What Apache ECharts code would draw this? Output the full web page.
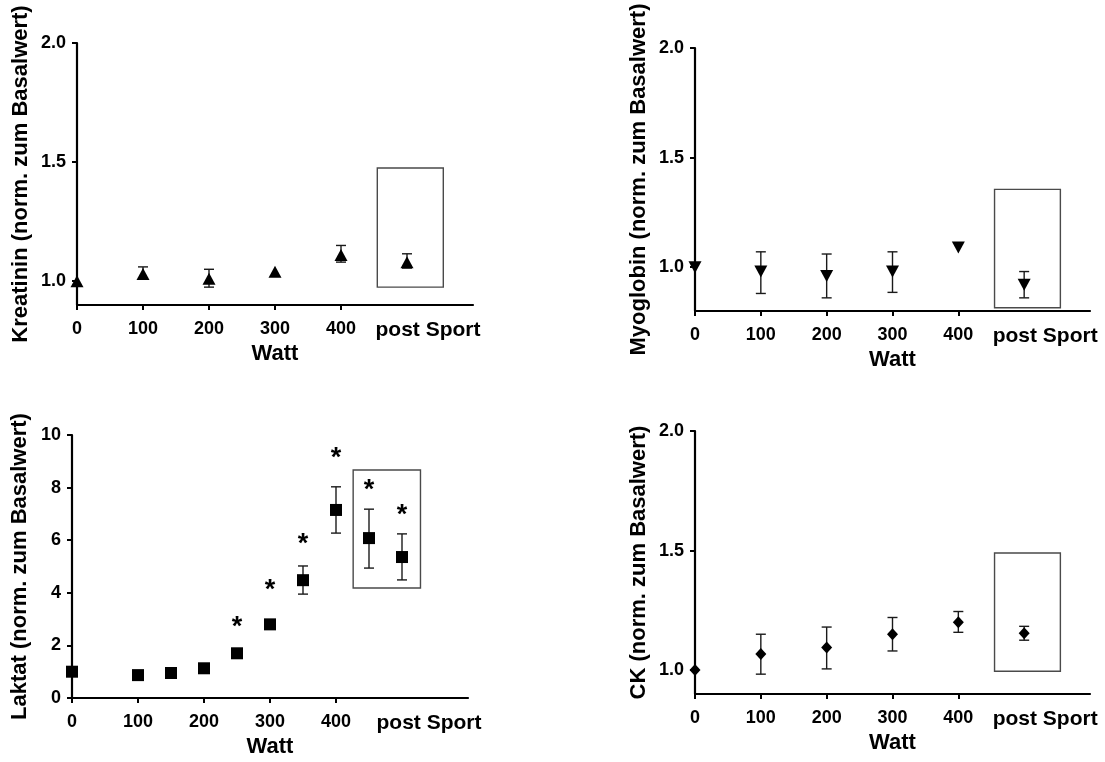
<!DOCTYPE html>
<html><head><meta charset="utf-8">
<script src="https://cdn.jsdelivr.net/npm/echarts@6/dist/echarts.min.js"></script>
<style>html,body{margin:0;padding:0;background:#fff}#c{width:1105px;height:762px}</style>
</head><body><div id="c"></div>
<script>
// ---- shared axis data ----
const wattTicks = [0, 100, 200, 300, 400];
const wattLabels = [0, 100, 200, 300, 400, 500];
const postLabel = 'post Sport';
const ratioTicks = [1.0, 1.5, 2.0];
const laktatTicks = [0, 2, 4, 6, 8, 10];

// ---- Kreatinin ----
const kreaX  = [0, 100, 200, 300, 400, 500];
const kreaY  = [1.00, 1.03, 1.01, 1.04, 1.11, 1.08];
const kreaLo = [null, 1.01, 0.975, null, 1.08, 1.055];
const kreaHi = [null, 1.06, 1.05, null, 1.15, 1.115];
const kreaBox = [455, 555, 0.975, 1.475];

// ---- Myoglobin ----
const myoX  = [0, 100, 200, 300, 400, 500];
const myoY  = [1.00, 0.98, 0.96, 0.98, 1.09, 0.92];
const myoLo = [null, 0.88, 0.86, 0.885, null, 0.86];
const myoHi = [null, 1.07, 1.06, 1.07, null, 0.98];
const myoBox = [455, 555, 0.815, 1.355];

// ---- Laktat ----
const lakX  = [0, 100, 150, 200, 250, 300, 350, 400, 450, 500];
const lakY  = [1.00, 0.87, 0.95, 1.13, 1.70, 2.80, 4.48, 7.15, 6.08, 5.36];
const lakLo = [null, null, null, null, null, null, 3.95, 6.27, 4.94, 4.49];
const lakHi = [null, null, null, null, null, null, 5.02, 8.03, 7.18, 6.24];
const lakBox = [426, 528, 4.18, 8.67];
const lakStarX = [250, 300, 350, 400, 450, 500];
const lakStarY = [2.9, 4.3, 6.08, 9.35, 8.13, 7.15];

// ---- CK ----
const ckX  = [0, 100, 200, 300, 400, 500];
const ckY  = [1.00, 1.067, 1.095, 1.15, 1.20, 1.154];
const ckLo = [null, 0.983, 1.005, 1.08, 1.158, 1.125];
const ckHi = [null, 1.15, 1.18, 1.22, 1.245, 1.183];
const ckBox = [455, 555, 0.995, 1.49];

const FONT = '"Liberation Sans", Arial, sans-serif';
const chart = echarts.init(document.getElementById('c'));

const grids = [
  {left: 77, top: 43, width: 396, height: 262},
  {left: 695, top: 48, width: 395, height: 263},
  {left: 72, top: 435, width: 396, height: 263},
  {left: 695, top: 431, width: 395, height: 263}
];

function xAxisFor(i, postPad, nameGap) {
  return {
    type: 'value', gridIndex: i, min: 0, max: 600,
    name: 'Watt', nameLocation: 'middle', nameGap: nameGap, nameMoveOverlap: false,
    nameTextStyle: {fontFamily: FONT, fontWeight: 'bold', fontSize: 22, color: '#000'},
    axisLine: {show: true, onZero: false, lineStyle: {color: '#000', width: 2.2}},
    axisTick: {show: true, length: 5, lineStyle: {color: '#000', width: 2}, customValues: wattTicks},
    splitLine: {show: false},
    axisLabel: {
      customValues: wattLabels, margin: 15,
      fontFamily: FONT, fontWeight: 'bold', fontSize: 18, color: '#000',
      formatter: v => v === 500 ? '{p|' + postLabel + '}' : String(v),
      rich: {p: {fontFamily: FONT, fontWeight: 'bold', fontSize: 21, color: '#000', padding: [0, 0, 0, postPad]}}
    }
  };
}
function yAxisFor(i, min, max, ticks, digits, name, nameGap) {
  return {
    type: 'value', gridIndex: i, min: min, max: max,
    name: name, nameLocation: 'middle', nameGap: nameGap, nameMoveOverlap: false,
    nameTextStyle: {fontFamily: FONT, fontWeight: 'bold', fontSize: 22, color: '#000'},
    axisLine: {show: true, onZero: false, lineStyle: {color: '#000', width: 2.2}},
    axisTick: {show: true, length: 5, lineStyle: {color: '#000', width: 2}, customValues: ticks},
    splitLine: {show: false},
    axisLabel: {
      customValues: ticks, margin: 11,
      fontFamily: FONT, fontWeight: 'bold', fontSize: 18, color: '#000',
      formatter: v => Number(v).toFixed(digits)
    }
  };
}

function errSeries(i, xs, lo, hi) {
  const data = [];
  xs.forEach((x, k) => { if (lo[k] != null && hi[k] != null) data.push([x, lo[k], hi[k]]); });
  return {
    type: 'custom', xAxisIndex: i, yAxisIndex: i, z: 2, silent: true,
    encode: {x: 0, y: [1, 2]},
    data: data,
    renderItem(params, api) {
      const x = api.value(0);
      const p1 = api.coord([x, api.value(2)]);
      const p2 = api.coord([x, api.value(1)]);
      const w = 5, st = {stroke: '#1a1a1a', lineWidth: 1.4};
      return {type: 'group', children: [
        {type: 'line', shape: {x1: p1[0], y1: p1[1], x2: p2[0], y2: p2[1]}, style: st},
        {type: 'line', shape: {x1: p1[0] - w, y1: p1[1], x2: p1[0] + w, y2: p1[1]}, style: st},
        {type: 'line', shape: {x1: p2[0] - w, y1: p2[1], x2: p2[0] + w, y2: p2[1]}, style: st}
      ]};
    }
  };
}
function boxSeries(i, b) {
  return {
    type: 'custom', xAxisIndex: i, yAxisIndex: i, z: 1, silent: true,
    encode: {x: [0, 1], y: [2, 3]},
    data: [b],
    renderItem(params, api) {
      const a = api.coord([api.value(0), api.value(3)]);
      const c = api.coord([api.value(1), api.value(2)]);
      return {type: 'rect', shape: {x: a[0], y: a[1], width: c[0] - a[0], height: c[1] - a[1]},
        style: {fill: 'none', stroke: '#4a4a4a', lineWidth: 1.4}};
    }
  };
}
function pointSeries(i, xs, ys, symbol, size) {
  return {
    type: 'scatter', xAxisIndex: i, yAxisIndex: i, z: 3, silent: true, clip: false,
    symbol: symbol, symbolSize: size,
    itemStyle: {color: '#000', opacity: 1},
    data: xs.map((x, k) => [x, ys[k]])
  };
}
function starSeries(i, xs, ys) {
  return {
    type: 'custom', xAxisIndex: i, yAxisIndex: i, z: 4, silent: true,
    encode: {x: 0, y: 1},
    data: xs.map((x, k) => [x, ys[k]]),
    renderItem(params, api) {
      const p = api.coord([api.value(0), api.value(1)]);
      return {type: 'text', x: p[0], y: p[1] + 6,
        style: {text: '*', fontFamily: FONT, fontWeight: 'bold', fontSize: 27, fill: '#000',
          align: 'center', verticalAlign: 'middle'}};
    }
  };
}

const downTri = 'path://M0,0 L10,0 L5,9 Z';

chart.setOption({
  animation: false,
  backgroundColor: '#fff',
  grid: grids,
  xAxis: [xAxisFor(0, 42, 38), xAxisFor(1, 42, 38), xAxisFor(2, 54, 38), xAxisFor(3, 42, 38)],
  yAxis: [
    yAxisFor(0, 0.9, 2.0, ratioTicks, 1, 'Kreatinin (norm. zum Basalwert)', 45),
    yAxisFor(1, 0.8, 2.0, ratioTicks, 1, 'Myoglobin (norm. zum Basalwert)', 45),
    yAxisFor(2, 0, 10, laktatTicks, 0, 'Laktat (norm. zum Basalwert)', 41),
    yAxisFor(3, 0.9, 2.0, ratioTicks, 1, 'CK (norm. zum Basalwert)', 45)
  ],
  series: [
    boxSeries(0, kreaBox), errSeries(0, kreaX, kreaLo, kreaHi), pointSeries(0, kreaX, kreaY, 'triangle', [13, 12]),
    boxSeries(1, myoBox), errSeries(1, myoX, myoLo, myoHi), pointSeries(1, myoX, myoY, downTri, [13, 12]),
    boxSeries(2, lakBox), errSeries(2, lakX, lakLo, lakHi), pointSeries(2, lakX, lakY, 'rect', 12),
    starSeries(2, lakStarX, lakStarY),
    boxSeries(3, ckBox), errSeries(3, ckX, ckLo, ckHi), pointSeries(3, ckX, ckY, 'diamond', [11, 12])
  ]
});
</script>
</body></html>
